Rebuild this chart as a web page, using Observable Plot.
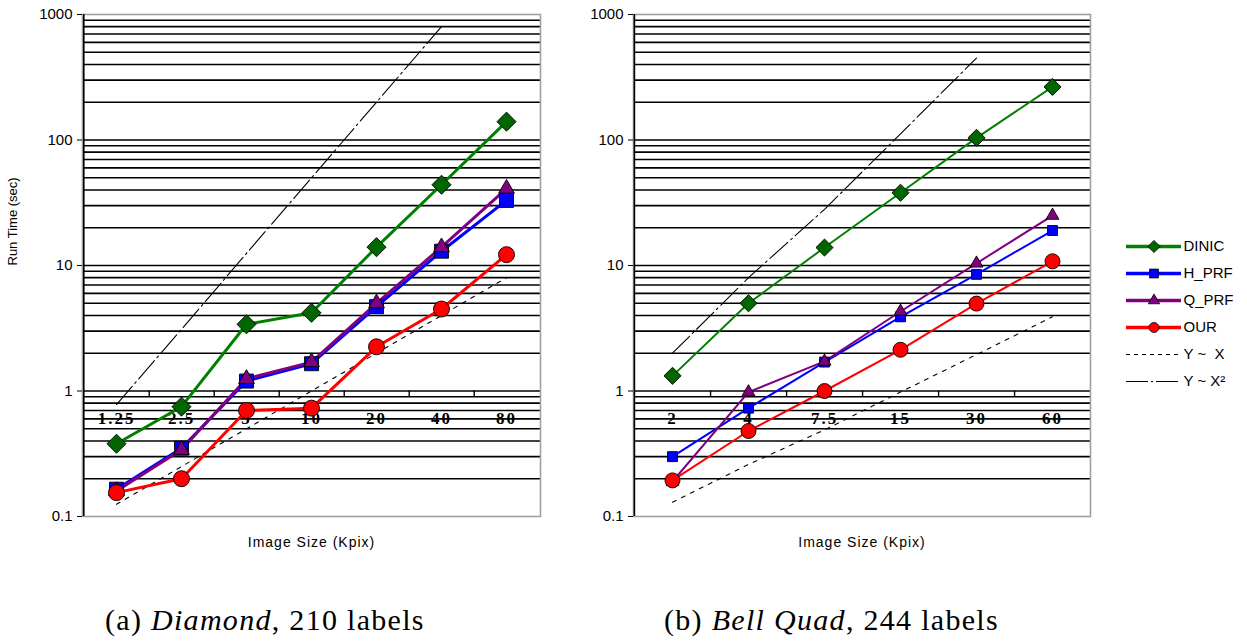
<!DOCTYPE html>
<html><head><meta charset="utf-8">
<script src="https://cdn.jsdelivr.net/npm/d3@7"></script>
<script src="https://cdn.jsdelivr.net/npm/@observablehq/plot@0.6"></script>
<style>
body{margin:0;background:#fff;}
#wrap{position:relative;width:1247px;height:642px;background:#fff;overflow:hidden;font-family:"Liberation Sans",Arial,sans-serif;}
.panel{position:absolute;top:0;}
.cap{position:absolute;font-family:"Liberation Serif",serif;font-size:30px;letter-spacing:1.3px;color:#000;white-space:nowrap;line-height:1;}
</style></head><body>
<div id="wrap">
 <div id="left" class="panel" style="left:0px"></div>
 <div id="right" class="panel" style="left:560px"></div>
 <div id="legend" class="panel" style="left:1120px;top:228px"></div>
 <div class="cap" style="left:105px;top:605px">(a) <i>Diamond</i>, 210 labels</div>
 <div class="cap" style="left:664px;top:605px">(b) <i>Bell Quad</i>, 244 labels</div>
</div>
<script>
// ---- data ----
const seriesNames = ["DINIC", "H_PRF", "Q_PRF", "OUR", "Y ~  X", "Y ~ X²"];
const seriesColors = ["#008000", "#0000ff", "#800080", "#ff0000", "#000000", "#000000"];
const markerFills = ["#006600", "#0000ff", "#800080", "#ff0000"];
const markerSymbols = ["diamond2", "square", "triangle", "circle"];

const diamondSizes = ["1.25", "2.5", "5", "10", "20", "40", "80"];
const diamondDinic = [0.38, 0.75, 3.4, 4.2, 14, 44, 140];
const diamondHprf  = [0.165, 0.35, 1.2, 1.65, 4.7, 13, 33];
const diamondQprf  = [0.16, 0.34, 1.25, 1.7, 5.0, 14, 41];
const diamondOur   = [0.155, 0.20, 0.70, 0.73, 2.25, 4.5, 12.2];
const diamondYX    = [0.125, 0.25, 0.5, 1, 2, 4, 8];
const diamondYX2   = [0.78, 3.1, 12.5, 50, 200, 800];

const bellSizes = ["2", "4", "7.5", "15", "30", "60"];
const bellDinic = [1.32, 5.0, 13.9, 38, 104, 265];
const bellHprf  = [0.30, 0.73, 1.7, 3.9, 8.5, 19];
const bellQprf  = [0.19, 0.98, 1.72, 4.3, 10.4, 25];
const bellOur   = [0.194, 0.48, 1.0, 2.13, 4.97, 10.8];
const bellYX    = [0.13, 0.26, 0.49, 0.98, 1.95, 3.9];
const bellYX2   = [2, 8, 28, 112, 450];

const yTicks = [0.1, 1, 10, 100, 1000];
const yTickLabels = ["0.1", "1", "10", "100", "1000"];
const gridMultipliers = [1, 2, 3, 4, 5, 6, 7, 8, 9];

const xTitle = "Image Size (Kpix)";
const yTitle = "Run Time (sec)";

// grid lines at log minor ticks (excluding frame edges)
const gridTicks = [];
for (const d of yTicks.slice(0, -1)) for (const m of gridMultipliers) {
  const v = +(d * m).toPrecision(3);
  if (v !== 0.1) gridTicks.push(v);
}

function panel(o) {
  const H = 560, mT = 14, mB = 44;
  const step = (o.width - o.marginLeft - o.marginRight) / o.sizes.length;
  const rows = (vals) => vals.map((v, i) => ({x: o.sizes[i], y: v}));
  const seriesVals = [o.dinic, o.hprf, o.qprf, o.our];
  const marks = [
    Plot.ruleY(gridTicks, {stroke: "#000", strokeWidth: 1.6}),
    Plot.frame({stroke: "#a0a0a0", strokeWidth: 1.6}),
    Plot.ruleX([o.sizes[0]], {dx: -step / 2, stroke: "#000", strokeWidth: 1.6}),
    Plot.ruleX(o.sizes.slice(0, -1), {y1: () => 1, y2: () => 0.9, dx: step / 2, stroke: "#000", strokeWidth: 1.4}),
    Plot.axisY(yTicks, {tickSize: 5, tickPadding: 5, tickFormat: (d) => yTickLabels[yTicks.indexOf(d)], fontSize: 15, label: null, fontFamily: "Liberation Sans, Arial, sans-serif"}),
    Plot.text(o.sizes, {x: d => d, y: () => 1, dy: 28, fontFamily: "Liberation Serif", fontWeight: "bold", fontSize: 17, fill: "#000"}),
    Plot.text([xTitle], {frameAnchor: "bottom", dy: 30, fontSize: 14, fill: "#000"}),
    Plot.line(rows(o.yx), {x: "x", y: "y", stroke: "#000", strokeWidth: 1.1, strokeDasharray: "4,6"}),
    Plot.line(rows(o.yx2), {x: "x", y: "y", stroke: "#000", strokeWidth: 1.1, strokeDasharray: "24,4,2,4"})
  ];
  if (o.showYLabel) marks.push(Plot.text([yTitle], {frameAnchor: "left", rotate: -90, dx: -70, fontSize: 13, fill: "#000"}));
  seriesVals.forEach((vals, k) => {
    marks.push(Plot.line(rows(vals), {x: "x", y: "y", stroke: seriesColors[k], strokeWidth: o.lw}));
  });
  seriesVals.forEach((vals, k) => {
    marks.push(Plot.dot(rows(vals), {x: "x", y: "y", symbol: markerSymbols[k], r: o.rs[k], fill: markerFills[k], stroke: "#000", strokeWidth: 0.9}));
  });
  const svg = Plot.plot({
    width: o.width, height: H,
    marginLeft: o.marginLeft, marginRight: o.marginRight, marginTop: mT, marginBottom: mB,
    style: {background: "transparent", fontFamily: "Liberation Sans, Arial, sans-serif", color: "#000"},
    x: {type: "point", domain: o.sizes, padding: 0.5, axis: null},
    y: {type: "log", domain: [0.1, 1000], axis: null},
    marks
  });
  svg.querySelectorAll('g[font-family="Liberation Serif"]').forEach(g => g.style.letterSpacing = "2px");
  svg.querySelectorAll('text').forEach(t => { if (t.textContent === xTitle) t.style.letterSpacing = "1px"; });
  return svg;
}

document.getElementById("left").appendChild(panel({
  sizes: diamondSizes, dinic: diamondDinic, hprf: diamondHprf, qprf: diamondQprf, our: diamondOur,
  yx: diamondYX, yx2: diamondYX2, lw: 3, rs: [8.6, 7.9, 5.9, 8], showYLabel: true,
  width: 560, marginLeft: 82, marginRight: 20
}));
document.getElementById("right").appendChild(panel({
  sizes: bellSizes, dinic: bellDinic, hprf: bellHprf, qprf: bellQprf, our: bellOur,
  yx: bellYX, yx2: bellYX2, lw: 2, rs: [7.7, 5.6, 4.8, 7.5], showYLabel: false,
  width: 545, marginLeft: 73, marginRight: 15
}));

// ---- legend ----
const legendMarks = [];
const dashes = [null, null, null, null, "4,4", "22,3,2,3"];
seriesNames.forEach((name, k) => {
  legendMarks.push(Plot.ruleY([name], {x1: () => 0, x2: () => 1, stroke: seriesColors[k], strokeWidth: k < 4 ? 3.5 : 1.2, strokeDasharray: dashes[k] || undefined}));
  if (k < 4) legendMarks.push(Plot.dot([name], {x: () => 0.5, y: d => d, symbol: markerSymbols[k], r: [5.5, 5, 4.2, 5][k], fill: markerFills[k], stroke: "#000", strokeWidth: 0.8}));
});
legendMarks.push(Plot.text(seriesNames, {x: () => 1, y: d => d, dx: 2, textAnchor: "start", fontSize: 15, fill: "#000"}));
document.getElementById("legend").appendChild(Plot.plot({
  width: 127, height: 170, marginLeft: 6, marginRight: 66, marginTop: 16, marginBottom: 15,
  style: {background: "transparent", fontFamily: "Liberation Sans, Arial, sans-serif", color: "#000"},
  x: {domain: [0, 1], axis: null},
  y: {type: "point", domain: seriesNames, padding: 0, axis: null},
  marks: legendMarks
}));
</script>
</body></html>
